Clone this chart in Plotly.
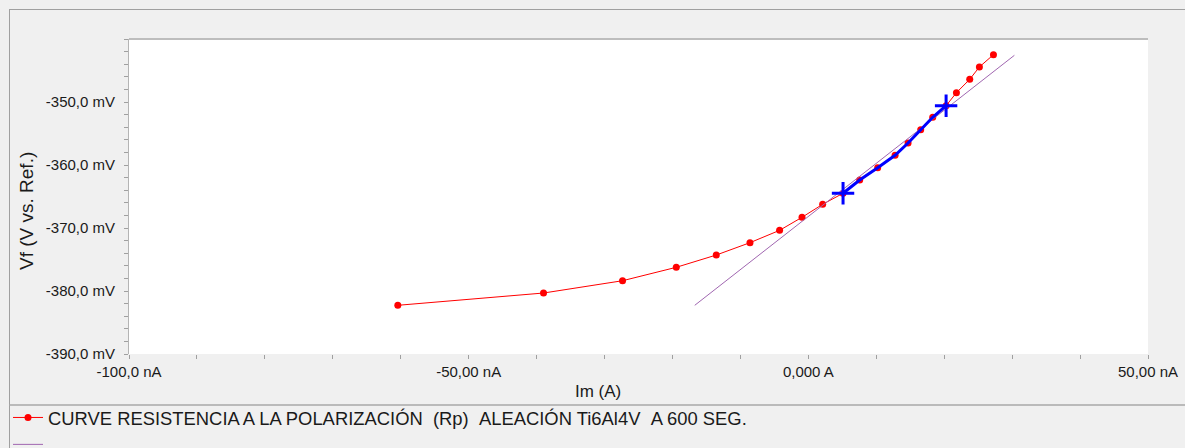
import plotly.graph_objects as go

# ---- data ----
im_nA = [-60.43, -38.98, -27.35, -19.44, -13.55, -8.59, -4.23, -0.93, 2.11, 5.11,
         7.56, 10.21, 12.77, 14.68, 16.54, 18.31, 20.28, 21.80, 23.76, 25.18, 27.25]
vf_mV = [-382.27, -380.32, -378.37, -376.24, -374.29, -372.33, -370.37, -368.30, -366.24, -364.49,
         -362.38, -360.43, -358.46, -356.51, -354.40, -352.43, -350.59, -348.52, -346.40, -344.44, -342.49]
fit_start, fit_end = 9, 16          # indices of the fitted region (blue)
line_x = [-16.72, 30.33]            # Rp fit line end points (nA)
line_y = [-382.27, -342.59]         # (mV)

x_tickvals = [-100, -50, 0, 50]
x_ticktext = ["-100,0 nA", "-50,00 nA", "0,000 A", "50,00 nA"]
y_tickvals = [-390, -380, -370, -360, -350]
y_ticktext = ["-390,0 mV", "-380,0 mV", "-370,0 mV", "-360,0 mV", "-350,0 mV"]
legend_name = "CURVE RESISTENCIA A LA POLARIZACIÓN\u00a0\u00a0(Rp)\u00a0\u00a0ALEACIÓN Ti6Al4V\u00a0\u00a0A 600 SEG."

# ---- layout geometry (pixels) ----
W, H = 1185, 448
L, R, T, B = 129, 1148, 39, 354
FONT = "Liberation Sans, Arial, sans-serif"


def px(xp):
    return (xp - L) / (R - L)


def py(yp):
    return (B - yp) / (B - T)


fig = go.Figure()
fig.add_trace(go.Scatter(
    x=im_nA, y=vf_mV, mode="lines+markers", name=legend_name,
    line=dict(color="#ff0000", width=1),
    marker=dict(color="#ff0000", size=7, symbol="circle"),
))
fig.add_trace(go.Scatter(
    x=line_x, y=line_y, mode="lines", name=" ",
    line=dict(color="#a066b0", width=1),
))
fig.add_trace(go.Scatter(
    x=im_nA[fit_start:fit_end + 1], y=vf_mV[fit_start:fit_end + 1], mode="lines",
    line=dict(color="#0000ff", width=3), showlegend=False,
))
fig.add_trace(go.Scatter(
    x=[im_nA[fit_start], im_nA[fit_end]], y=[vf_mV[fit_start], vf_mV[fit_end]], mode="markers",
    marker=dict(symbol="cross-thin", size=16, line=dict(color="#0000ff", width=3), color="#0000ff"),
    showlegend=False,
))

tickfont = dict(family=FONT, size=15, color="#1a1a1a")
fig.update_xaxes(
    range=[-100, 50], tickvals=x_tickvals, ticktext=x_ticktext,
    ticks="outside", ticklen=4, tickcolor="#a0a0a0", tickwidth=1,
    minor=dict(dtick=10, tick0=-100, ticks="outside", ticklen=4, tickcolor="#a0a0a0", tickwidth=1),
    showgrid=False, zeroline=False, showline=False, tickfont=tickfont, automargin=False,
)
fig.update_yaxes(
    range=[-390, -340], tickvals=y_tickvals, ticktext=y_ticktext,
    ticks="outside", ticklen=4, tickcolor="#a0a0a0", tickwidth=1,
    minor=dict(dtick=2, tick0=-390, ticks="outside", ticklen=4, tickcolor="#a0a0a0", tickwidth=1),
    showgrid=False, zeroline=False, showline=True, linecolor="#b4b4b4", linewidth=1,
    tickfont=tickfont, automargin=False, ticklabelstandoff=6,
)

shapes = [
    # outer panel border (top + left)
    dict(type="line", xref="paper", yref="paper", x0=px(9), x1=px(W), y0=py(9.5), y1=py(9.5),
         line=dict(color="#a0a0a0", width=1)),
    dict(type="line", xref="paper", yref="paper", x0=px(9.5), x1=px(9.5), y0=py(9), y1=py(H),
         line=dict(color="#a0a0a0", width=1)),
    # legend separator
    dict(type="line", xref="paper", yref="paper", x0=px(9), x1=px(W), y0=py(405), y1=py(405),
         line=dict(color="#a8a8a8", width=1.5)),
    # plot area top edge
    dict(type="line", xref="paper", yref="paper", x0=0, x1=1, y0=1, y1=1,
         line=dict(color="#bdbdbd", width=2)),
]

annotations = [
    dict(text="Im (A)", xref="paper", yref="paper", x=px(598), y=py(391), showarrow=False,
         xanchor="center", yanchor="middle", font=dict(family=FONT, size=17, color="#1a1a1a")),
    dict(text="Vf (V vs. Ref.)", xref="paper", yref="paper", x=px(26), y=py(211), showarrow=False,
         textangle=-90, xanchor="center", yanchor="middle",
         font=dict(family=FONT, size=19, color="#1a1a1a")),
]

fig.update_layout(
    width=W, height=H,
    margin=dict(l=L, r=W - R, t=T, b=H - B, pad=0, autoexpand=False),
    paper_bgcolor="#f0f0f0", plot_bgcolor="#ffffff",
    shapes=shapes, annotations=annotations,
    showlegend=True,
    legend=dict(x=px(8), y=py(399), xanchor="left", yanchor="top", orientation="v",
                bgcolor="rgba(0,0,0,0)", borderwidth=0, tracegroupgap=0, itemwidth=30,
                font=dict(family=FONT, size=18.4, color="#1a1a1a")),
    font=dict(family=FONT),
)

fig.write_html("out.html", config={"displayModeBar": False},
               post_script="document.body.style.margin='0';document.body.style.overflow='hidden';")
